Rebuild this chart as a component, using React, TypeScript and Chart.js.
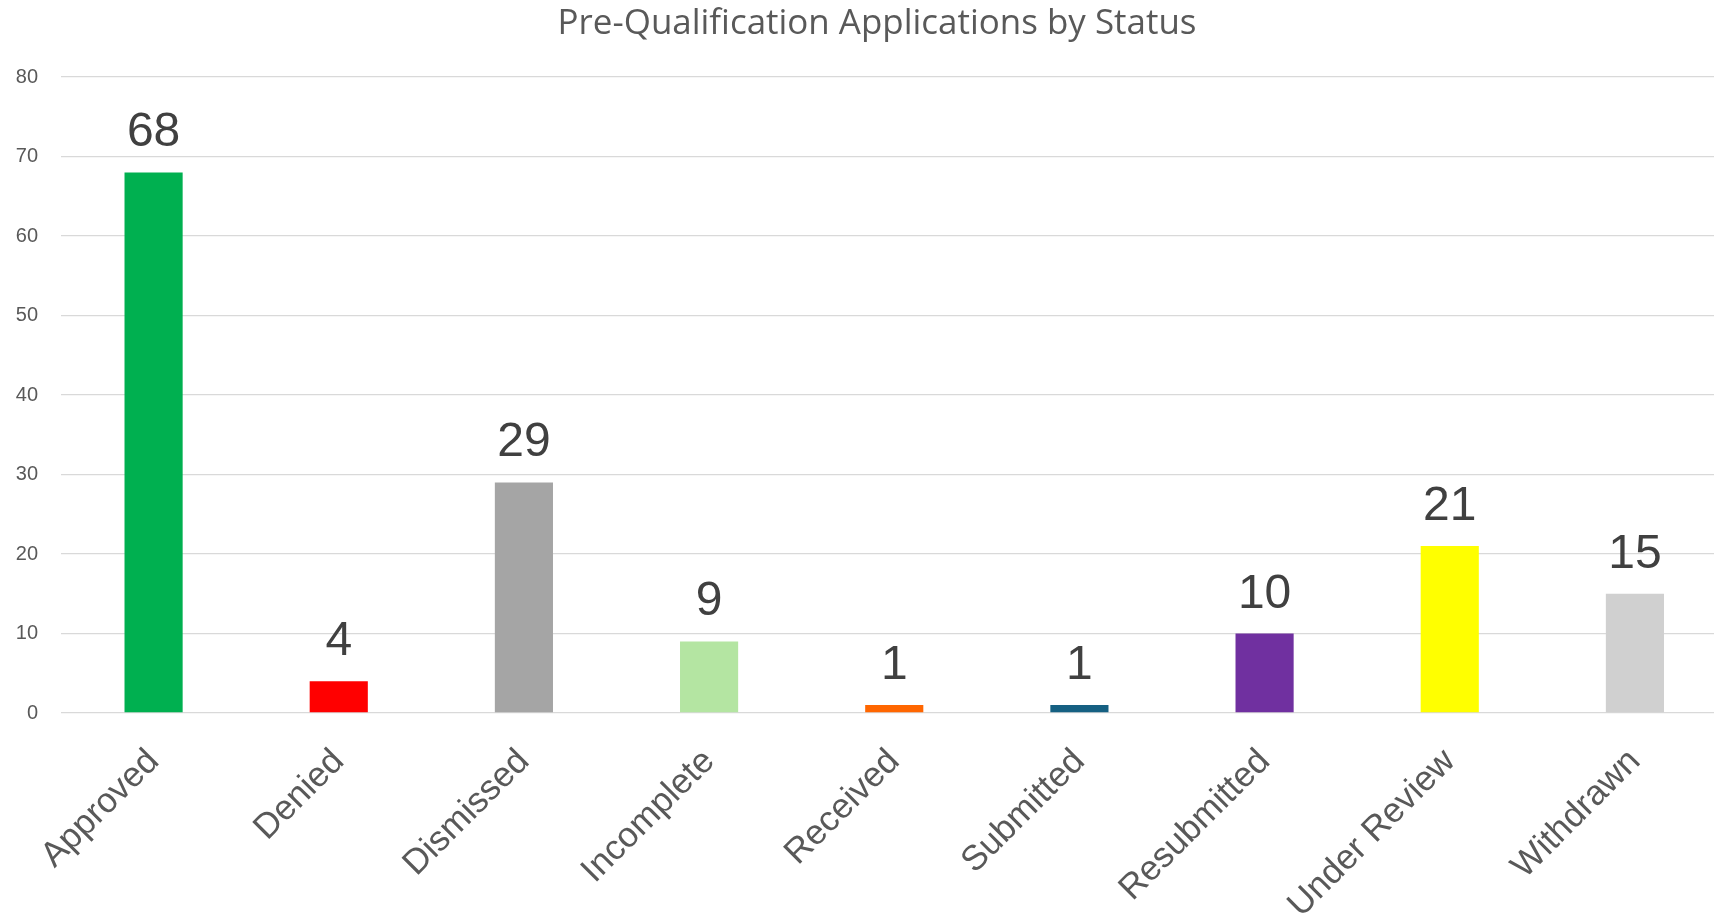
import React, { useEffect, useRef } from "react";
import { Chart, registerables } from "chart.js";

Chart.register(...registerables);

const chartTitle = "Pre-Qualification Applications by Status";
const categories = [
  "Approved",
  "Denied",
  "Dismissed",
  "Incomplete",
  "Received",
  "Submitted",
  "Resubmitted",
  "Under Review",
  "Withdrawn",
];
const counts = [68, 4, 29, 9, 1, 1, 10, 21, 15];
const barColors = [
  "#00B050",
  "#FF0000",
  "#A5A5A5",
  "#B4E5A2",
  "#FF6600",
  "#156082",
  "#7030A0",
  "#FFFF00",
  "#D0D0D0",
];
const yMin = 0;
const yMax = 80;
const yStep = 10;

const CANVAS_W = 1754;
const CANVAS_H = 917;
const SANS = "'Liberation Sans', Arial, sans-serif";
const TITLE_FAMILY = "'Open Sans', Roboto, sans-serif";
const TITLE_WIDTH = 639;

const titlePlugin = {
  id: "customTitle",
  afterDraw(chart: any) {
    const ctx = chart.ctx;
    ctx.save();
    ctx.font = `normal 400 30px ${TITLE_FAMILY}`;
    const w = ctx.measureText(chartTitle).width || TITLE_WIDTH;
    const size = Math.min(36, Math.max(24, (30 * TITLE_WIDTH) / w));
    ctx.font = `normal 400 ${size}px ${TITLE_FAMILY}`;
    ctx.fillStyle = "#595959";
    ctx.textAlign = "center";
    ctx.textBaseline = "alphabetic";
    ctx.fillText(chartTitle, chart.width / 2, 34);
    ctx.restore();
  },
};

const valueLabelPlugin = {
  id: "valueLabels",
  afterDatasetsDraw(chart: any) {
    const ctx = chart.ctx;
    const meta = chart.getDatasetMeta(0);
    const data = chart.data.datasets[0].data as number[];
    ctx.save();
    ctx.font = `normal 400 48px ${SANS}`;
    ctx.fillStyle = "#404040";
    ctx.textAlign = "center";
    ctx.textBaseline = "alphabetic";
    meta.data.forEach((bar: any, i: number) => {
      ctx.fillText(String(data[i]), bar.x, bar.y - 26);
    });
    ctx.restore();
  },
};

export default function App() {
  const canvasRef = useRef<HTMLCanvasElement | null>(null);

  useEffect(() => {
    const canvas = canvasRef.current;
    if (!canvas) return;
    const chart = new Chart(canvas, {
      type: "bar",
      data: {
        labels: categories,
        datasets: [
          {
            label: "Applications",
            data: counts,
            backgroundColor: barColors,
            borderWidth: 0,
            barPercentage: 0.314,
            categoryPercentage: 1,
          },
        ],
      },
      options: {
        animation: false,
        responsive: false,
        devicePixelRatio: 1,
        layout: { padding: { top: 77, right: 26.5, left: 0, bottom: 0 } },
        plugins: {
          legend: { display: false },
          tooltip: { enabled: false },
          title: { display: false },
        },
        scales: {
          x: {
            grid: { display: false },
            border: { display: false },
            ticks: {
              color: "#595959",
              font: { family: SANS, size: 35 },
              minRotation: 45,
              maxRotation: 45,
              autoSkip: false,
              padding: 20,
            },
            afterFit: (s: any) => {
              s.height = 204;
              s.paddingLeft = 0;
            },
          },
          y: {
            min: yMin,
            max: yMax,
            grid: { color: "#D9D9D9", lineWidth: 1.3, drawTicks: false },
            border: { display: false },
            ticks: {
              stepSize: yStep,
              color: "#595959",
              font: { family: SANS, size: 20 },
              padding: 23,
            },
            afterFit: (s: any) => {
              s.width = 61;
            },
          },
        },
      },
      plugins: [titlePlugin, valueLabelPlugin],
    });
    return () => chart.destroy();
  }, []);

  return (
    <div
      style={{
        position: "fixed",
        left: 0,
        top: 0,
        width: 1714,
        height: 917,
        overflow: "hidden",
        background: "#ffffff",
      }}
    >
      <canvas
        ref={canvasRef}
        width={CANVAS_W}
        height={CANVAS_H}
        style={{ display: "block", width: CANVAS_W, height: CANVAS_H }}
      />
    </div>
  );
}
